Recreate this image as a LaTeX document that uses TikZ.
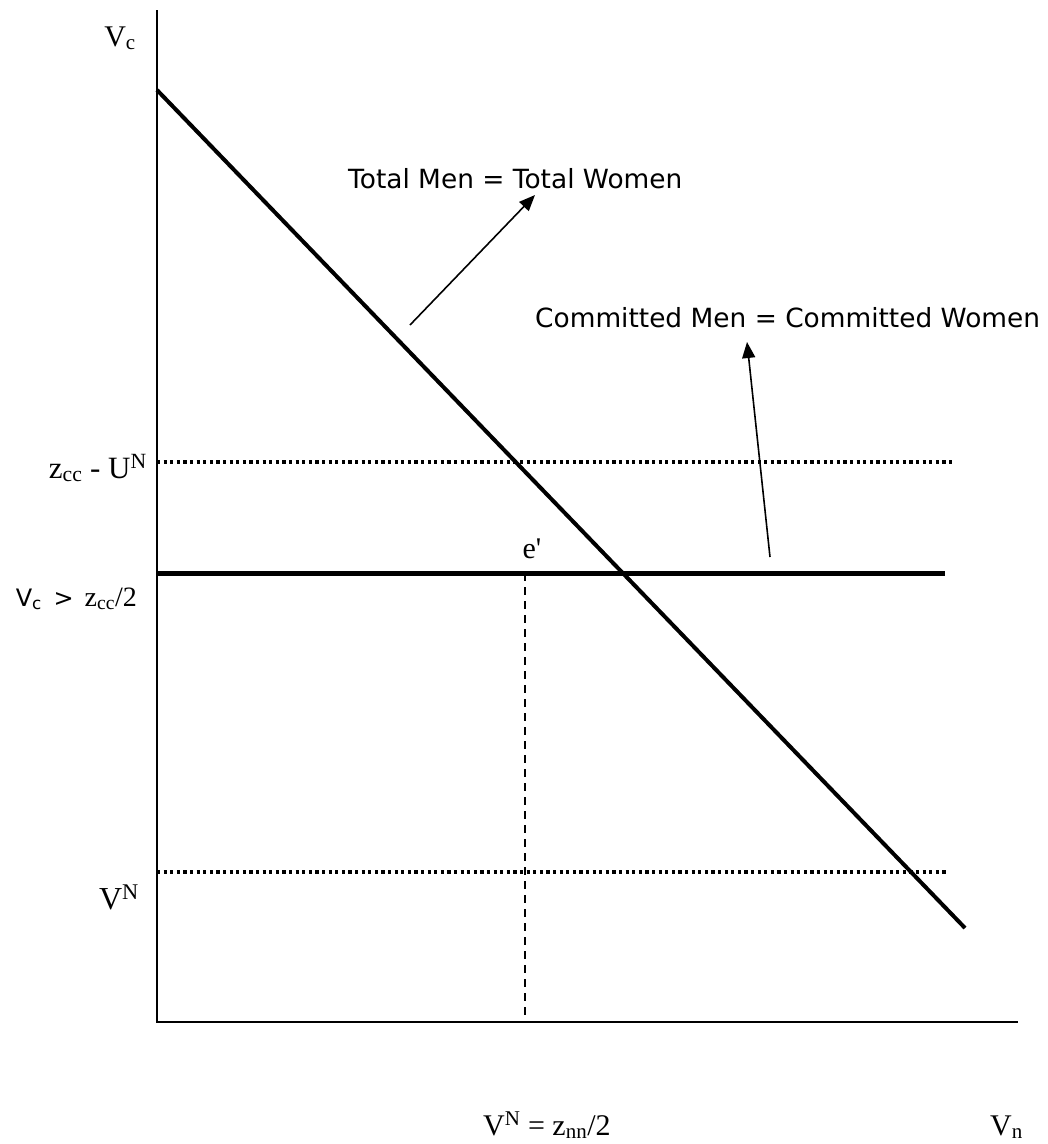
\documentclass[tikz,border=0pt]{standalone}
\usepackage{fontspec}
\setmainfont{Liberation Serif}
\newfontfamily\curvefont{DejaVu Sans}
\usetikzlibrary{arrows.meta,positioning}

\begin{document}
\begin{tikzpicture}[
    x=1pt, y=-1pt,
    >={Triangle[length=16pt,width=13pt]},
    % Define styles for lines and labels
    axis/.style={line width=2pt},
    curve/.style={line width=4pt},
    level/.style={line width=3.2pt, dash pattern=on 3.2pt off 3.4pt},
    bound/.style={line width=5pt},
    guide/.style={line width=1.6pt, dash pattern=on 8pt off 6pt},
    pointer/.style={line width=1.6pt, ->},
    axlabel/.style={font=\fontsize{30}{32}\selectfont, inner sep=0pt},
    curvelabel/.style={font=\curvefont\fontsize{26.4}{28}\selectfont, inner sep=0pt}
]
\useasboundingbox (0,0) rectangle (1048,1144);

% ==========================================
% Axes
% ==========================================
\coordinate (origin) at (157,1022);
\coordinate (ytop) at (157,10);
\coordinate (xend) at (1018,1022);
\draw[axis] (ytop) -- (origin) -- (xend);

\node[axlabel, anchor=base] (vc) at (120,46) {V\textsubscript{c}};
\node[axlabel, anchor=base west] (vn) at (990,1135) {V\textsubscript{n}};
\node[axlabel, anchor=base west] (vnval) at (483,1135) {V\textsuperscript{N} = z\textsubscript{nn}/2};

% ==========================================
% Levels on the V_c axis
% ==========================================
\coordinate (zl) at (157,462);
\coordinate (zr) at (955,462);
\draw[level] (zl) -- (zr);
\node[axlabel, anchor=base east, font=\fontsize{31}{33}\selectfont] (zcc) at (147,478) {z\textsubscript{cc} - U\textsuperscript{N}};

\coordinate (bl) at (157,573);
\coordinate (br) at (945,573);
\draw[bound] (bl) -- (br);
\node[axlabel, anchor=base east, font=\fontsize{28}{30}\selectfont] (vcmin) at (137,606) {{\curvefont\fontsize{24}{26}\selectfont V\textsubscript{c} \,>\,} z\textsubscript{cc}/2};

\coordinate (nl) at (157,872);
\coordinate (nr) at (948,872);
\draw[level] (nl) -- (nr);
\node[axlabel, anchor=base east, font=\fontsize{32}{34}\selectfont] (vN) at (139,909) {V\textsuperscript{N}};

% ==========================================
% Total market line and point e'
% ==========================================
\coordinate (ta) at (157,90);
\coordinate (tb) at (965,928);
\draw[curve] (ta) -- (tb);

\coordinate (ep) at (525,573);
\draw[guide] (ep) -- (ep |- origin);
\node[axlabel, anchor=base] (elabel) at (532,558) {e\textquotesingle};

% ==========================================
% Curve labels with pointers
% ==========================================
\node[curvelabel, anchor=base west] (total) at (348,188) {Total Men = Total Women};
\coordinate (totaltail) at (410,325);
\coordinate (totaltip) at (535,195);
\draw[pointer] (totaltail) -- (totaltip);

\node[curvelabel, anchor=base west] (committed) at (535,327) {Committed Men = Committed Women};
\coordinate (comtail) at (770,557);
\coordinate (comtip) at (747,342);
\draw[pointer] (comtail) -- (comtip);

\end{tikzpicture}
\end{document}
